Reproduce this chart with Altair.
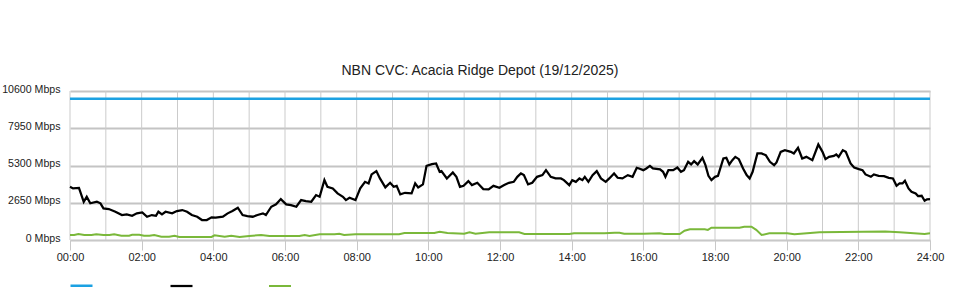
import altair as alt
import pandas as pd

TITLE = "NBN CVC: Acacia Ridge Depot (19/12/2025)"
SERIES = ["CVC capacity", "Download", "Upload"]
COLORS = ["#1ba1e2", "#000000", "#7ab83a"]
WIDTHS = [2.5, 2.0, 2.5]

# capacity (Mbps), constant through the day
capacity_times = ["00:00", "24:00"]
capacity_mbps = [10050, 10050]

# download traffic
down_times = [
    "00:00", "00:05", "00:15", "00:23", "00:28", "00:34", "00:45", "00:51", "00:56", "01:05",
    "01:16", "01:27", "01:35", "01:44", "01:52", "02:01", "02:09", "02:17", "02:24", "02:28",
    "02:34", "02:40", "02:51", "02:59", "03:08", "03:16", "03:24", "03:33", "03:41", "03:49",
    "03:57", "04:04", "04:16", "04:24", "04:32", "04:41", "04:49", "04:57", "05:06", "05:14",
    "05:23", "05:28", "05:37", "05:45", "05:53", "06:02", "06:10", "06:19", "06:27", "06:35",
    "06:44", "06:52", "06:58", "07:06", "07:11", "07:20", "07:28", "07:37", "07:42", "07:48",
    "07:58", "08:06", "08:14", "08:20", "08:25", "08:33", "08:39", "08:48", "08:56", "09:02",
    "09:07", "09:13", "09:21", "09:32", "09:38", "09:43", "09:51", "09:57", "10:06", "10:13",
    "10:19", "10:22", "10:31", "10:41", "10:47", "10:53", "10:59", "11:07", "11:13", "11:22",
    "11:32", "11:41", "11:49", "11:59", "12:07", "12:15", "12:23", "12:29", "12:35", "12:40",
    "12:47", "12:54", "13:02", "13:11", "13:17", "13:25", "13:33", "13:42", "13:47", "13:56",
    "14:01", "14:07", "14:13", "14:18", "14:22", "14:28", "14:35", "14:42", "14:49", "14:57",
    "15:03", "15:11", "15:17", "15:25", "15:34", "15:42", "15:49", "15:53", "16:00", "16:05",
    "16:11", "16:16", "16:28", "16:33", "16:37", "16:42", "16:50", "16:57", "17:03", "17:08",
    "17:15", "17:20", "17:25", "17:31", "17:39", "17:44", "17:49", "17:54", "18:00", "18:05",
    "18:14", "18:19", "18:24", "18:29", "18:34", "18:40", "18:47", "18:53", "18:58", "19:03",
    "19:11", "19:18", "19:25", "19:32", "19:39", "19:43", "19:50", "19:57", "20:07", "20:12",
    "20:19", "20:26", "20:33", "20:43", "20:53", "21:00", "21:05", "21:11", "21:19", "21:23",
    "21:27", "21:34", "21:39", "21:47", "21:53", "22:01", "22:07", "22:12", "22:21", "22:26",
    "22:34", "22:43", "22:51", "22:58", "23:04", "23:09", "23:14", "23:18", "23:24", "23:29",
    "23:36", "23:40", "23:46", "23:51", "23:55", "24:00",
]
down_mbps = [
    3780, 3670, 3710, 2720, 3070, 2610, 2720, 2610, 2250, 2200,
    2010, 1775, 1825, 1725, 1895, 1965, 1655, 1775, 1725, 2010,
    1825, 2010, 1895, 2060, 2130, 2010, 1775, 1655, 1420, 1420,
    1610, 1585, 1655, 1895, 2060, 2295, 1775, 1705, 1655, 1775,
    1895, 1775, 2365, 2535, 2910, 2535, 2485, 2365, 2840, 2770,
    2720, 3195, 3075, 4260, 3785, 3670, 3315, 3075, 2840, 3005,
    2840, 3670, 4140, 4025, 4665, 4900, 4380, 3740, 4070, 3785,
    3855, 3245, 3360, 3315, 4025, 3740, 3955, 5275, 5395, 5445,
    4850, 4900, 4380, 4805, 4495, 3785, 3855, 4190, 3905, 4070,
    3620, 3600, 3855, 3715, 3905, 4070, 4140, 4495, 4735, 4615,
    3955, 4070, 4495, 4615, 4970, 4495, 4380, 4380, 4260, 3905,
    4260, 4140, 4380, 4260, 4495, 4140, 4615, 4900, 4380, 4140,
    4380, 4735, 4425, 4380, 4615, 4495, 5135, 5090, 4970, 5090,
    5275, 5090, 5020, 4850, 4495, 4970, 4970, 5160, 4850, 4970,
    5560, 5375, 5610, 5375, 5845, 5325, 4565, 4260, 4495, 4565,
    5800, 5845, 5375, 5680, 5915, 5750, 5090, 4615, 4380, 4850,
    6155, 6155, 6035, 5560, 5325, 5515, 6270, 6390, 6270, 6155,
    6555, 5800, 5915, 5680, 6795, 6270, 5750, 5915, 5985, 6085,
    5915, 6390, 6270, 5445, 5160, 5040, 4970, 4665, 4495, 4665,
    4565, 4545, 4425, 4380, 3855, 4025, 4025, 4210, 3670, 3430,
    3315, 3125, 3145, 2790, 2890, 2910,
]

# upload traffic
up_times = [
    "00:00", "00:07", "00:14", "00:24", "00:36", "00:44", "00:56", "01:06", "01:14", "01:26",
    "01:39", "01:44", "01:56", "02:04", "02:13", "02:21", "02:33", "02:46", "02:55", "03:03",
    "03:28", "03:57", "04:02", "04:19", "04:30", "04:44", "05:00", "05:20", "05:34", "06:24",
    "06:33", "06:41", "06:58", "07:23", "07:31", "07:39", "07:58", "08:38", "09:11", "09:20",
    "10:10", "10:19", "10:32", "11:00", "11:09", "11:19", "11:42", "11:59", "12:32", "12:41",
    "13:14", "13:56", "14:04", "14:55", "15:12", "15:20", "15:28", "16:00", "16:27", "16:35",
    "17:01", "17:09", "17:18", "17:43", "17:48", "17:54", "18:41", "18:49", "19:01", "19:09",
    "19:18", "19:31", "20:01", "20:13", "20:55", "22:45", "23:09", "23:51", "24:00",
]
up_mbps = [
    355, 355, 425, 355, 355, 405, 355, 355, 405, 305,
    305, 370, 370, 305, 305, 355, 235, 235, 305, 215,
    215, 215, 335, 235, 305, 215, 290, 355, 290, 290,
    355, 290, 405, 405, 445, 355, 405, 405, 405, 495,
    495, 590, 495, 445, 545, 445, 545, 545, 545, 425,
    425, 425, 475, 475, 520, 520, 445, 445, 475, 425,
    425, 660, 760, 760, 720, 875, 875, 945, 945, 720,
    355, 475, 475, 405, 545, 600, 545, 425, 475,
]

Y_TICKS = [0, 2650, 5300, 7950, 10600]
X_LABEL_HOURS = list(range(0, 25, 2))
GRID_HOURS = list(range(0, 25))


def to_hours(t):
    h, m = t.split(":")
    return int(h) + int(m) / 60.0


rows = []
for name, times, vals in [
    (SERIES[0], capacity_times, capacity_mbps),
    (SERIES[1], down_times, down_mbps),
    (SERIES[2], up_times, up_mbps),
]:
    for t, v in zip(times, vals):
        rows.append({"series": name, "hour": to_hours(t), "mbps": v})
df = pd.DataFrame(rows)
grid_df = pd.DataFrame({"hour": GRID_HOURS})

FONT = "Liberation Sans"
x_scale = alt.Scale(domain=[0, 24], nice=False, zero=False)
y_scale = alt.Scale(domain=[0, 10600], nice=False)

x_axis = alt.Axis(
    values=X_LABEL_HOURS,
    labelExpr="(datum.value < 10 ? '0' : '') + datum.value + ':00'",
    title=None,
    grid=False,
    domain=True,
    domainColor="#c8c8c8",
    domainWidth=1,
    ticks=True,
    tickColor="#c8c8c8",
    tickSize=10,
    labelPadding=1,
    labelFont=FONT,
    labelFontSize=11,
    labelColor="#222222",
    labelFlush=False,
)
y_axis = alt.Axis(
    values=Y_TICKS,
    labelExpr="datum.value + ' Mbps'",
    title=None,
    grid=True,
    gridColor="#c4c4c4",
    gridWidth=2,
    domain=False,
    ticks=False,
    labelPadding=10,
    labelOffset=-2,
    labelFont=FONT,
    labelFontSize=10.6,
    labelColor="#222222",
)

vgrid = alt.Chart(grid_df).mark_rule(color="#cbcbcb", strokeWidth=1).encode(
    x=alt.X("hour:Q", scale=x_scale, axis=x_axis),
    y=alt.value(0),
    y2=alt.value(149),
)

lines = alt.Chart(df).mark_line(interpolate="linear").encode(
    x=alt.X("hour:Q", scale=x_scale, axis=x_axis),
    y=alt.Y("mbps:Q", scale=y_scale, axis=y_axis),
    color=alt.Color(
        "series:N",
        scale=alt.Scale(domain=SERIES, range=COLORS),
        legend=alt.Legend(
            title=None,
            orient="none",
            legendX=-1,
            legendY=182,
            direction="horizontal",
            symbolType="stroke",
            symbolSize=484,
            symbolStrokeWidth=2.5,
            labelExpr="''",
            labelOffset=0,
            labelFontSize=1,
            columnPadding=68,
        ),
    ),
    strokeWidth=alt.StrokeWidth(
        "series:N", scale=alt.Scale(domain=SERIES, range=WIDTHS), legend=None
    ),
    order=alt.Order("hour:Q"),
)

chart = (
    alt.layer(vgrid, lines)
    .properties(
        width=860,
        height=149,
        title=alt.TitleParams(
            TITLE,
            font=FONT,
            fontSize=14,
            fontWeight="normal",
            color="#222222",
            anchor="middle",
            offset=6,
            dx=-20,
        ),
        autosize=alt.AutoSizeParams(type="none"),
        padding={"left": 70, "top": 91, "right": 30, "bottom": 60},
        background="white",
    )
    .configure_view(stroke=None)
)

chart.save("out.html", embed_options={"renderer": "svg", "actions": False})
